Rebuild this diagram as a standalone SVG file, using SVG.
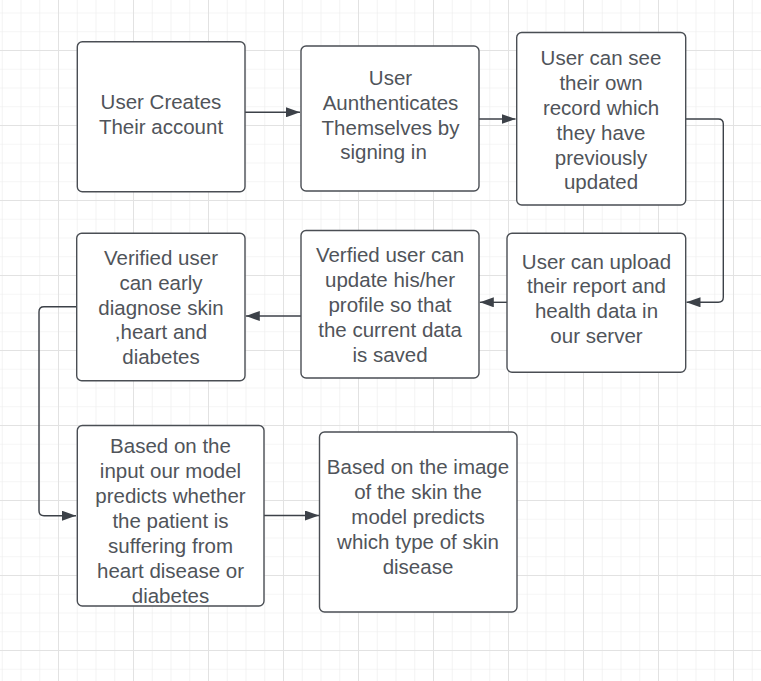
<svg xmlns="http://www.w3.org/2000/svg" width="761" height="681" viewBox="0 0 761 681">
<style>
.box{fill:#ffffff;stroke:#4a4e54;stroke-width:1.4}
.lbl{font-family:"Liberation Sans",Arial,sans-serif;font-size:20.5px;fill:#50545a;text-anchor:middle}
.con{fill:none;stroke:#3c4148;stroke-width:1.4}
</style>
<defs>
<pattern id="minor" patternUnits="userSpaceOnUse" x="1.75" y="12.5" width="18.75" height="18.75">
<path d="M0 0H18.75M0 0V18.75" fill="none" stroke="#ececec" stroke-width="1.2"/>
</pattern>
<pattern id="mid" patternUnits="userSpaceOnUse" x="58" y="50" width="75" height="75">
<path d="M0 0H75M0 0V75" fill="none" stroke="#e2e2e2" stroke-width="2"/>
</pattern>
<marker id="arr" viewBox="0 0 14 10" refX="14" refY="5" markerWidth="14" markerHeight="10" markerUnits="userSpaceOnUse" orient="auto">
<path d="M0 0L14 5L0 10Z" fill="#3c4148"/>
</marker>
</defs>
<rect width="761" height="681" fill="#ffffff"/>
<rect width="761" height="681" fill="url(#minor)"/>
<rect width="761" height="681" fill="url(#mid)"/>
<g id="connectors">
<path class="con" d="M245 112.3H300" marker-end="url(#arr)"/>
<path class="con" d="M479 119H515.5" marker-end="url(#arr)"/>
<path class="con" d="M685.7 119H718.3Q723.3 119 723.3 124V297.3Q723.3 302.3 718.3 302.3H686.5" marker-end="url(#arr)"/>
<path class="con" d="M507 302.3H479.8" marker-end="url(#arr)"/>
<path class="con" d="M301 316H245.8" marker-end="url(#arr)"/>
<path class="con" d="M77 306.7H44Q39 306.7 39 311.7V510.7Q39 515.7 44 515.7H76" marker-end="url(#arr)"/>
<path class="con" d="M264 515.5H319" marker-end="url(#arr)"/>
</g>
<g id="n1">
<rect class="box" x="77.3" y="41.7" width="167.7" height="150" rx="5"/>
<text class="lbl" x="161" y="109">User Creates</text>
<text class="lbl" x="161" y="134">Their account</text>
</g>
<g id="n2">
<rect class="box" x="301" y="46" width="178" height="145" rx="5"/>
<text class="lbl" x="390.5" y="85">User</text>
<text class="lbl" x="390.5" y="110">Aunthenticates</text>
<text class="lbl" x="390.5" y="134.5">Themselves by</text>
<text class="lbl" x="383.5" y="159">signing in</text>
</g>
<g id="n3">
<rect class="box" x="516.7" y="32.5" width="169" height="172.5" rx="5"/>
<text class="lbl" x="601" y="65">User can see</text>
<text class="lbl" x="601" y="90">their own</text>
<text class="lbl" x="601" y="115">record which</text>
<text class="lbl" x="601" y="140">they have</text>
<text class="lbl" x="601" y="164.5">previously</text>
<text class="lbl" x="601" y="189">updated</text>
</g>
<g id="n4">
<rect class="box" x="507" y="233.3" width="178.7" height="139" rx="5"/>
<text class="lbl" x="596.5" y="268.5">User can upload</text>
<text class="lbl" x="596.5" y="293">their report and</text>
<text class="lbl" x="596.5" y="318">health data in</text>
<text class="lbl" x="596.5" y="343">our server</text>
</g>
<g id="n5">
<rect class="box" x="301" y="230.5" width="178" height="147.5" rx="5"/>
<text class="lbl" x="390" y="262">Verfied user can</text>
<text class="lbl" x="390" y="287">update his/her</text>
<text class="lbl" x="390" y="312">profile so that</text>
<text class="lbl" x="390" y="337">the current data</text>
<text class="lbl" x="390" y="362">is saved</text>
</g>
<g id="n6">
<rect class="box" x="76.7" y="233.3" width="168.3" height="147.4" rx="5"/>
<text class="lbl" x="161" y="265">Verified user</text>
<text class="lbl" x="161" y="290">can early</text>
<text class="lbl" x="161" y="314.5">diagnose skin</text>
<text class="lbl" x="161" y="339">,heart and</text>
<text class="lbl" x="161" y="364">diabetes</text>
</g>
<g id="n7">
<rect class="box" x="77.3" y="425.5" width="186.7" height="180.5" rx="5"/>
<text class="lbl" x="170.5" y="453">Based on the</text>
<text class="lbl" x="170.5" y="478">input our model</text>
<text class="lbl" x="170.5" y="503">predicts whether</text>
<text class="lbl" x="170.5" y="528">the patient is</text>
<text class="lbl" x="170.5" y="553">suffering from</text>
<text class="lbl" x="170.5" y="578">heart disease or</text>
<text class="lbl" x="170.5" y="603">diabetes</text>
</g>
<g id="n8">
<rect class="box" x="319.5" y="432" width="197.5" height="180" rx="5"/>
<text class="lbl" x="418" y="474">Based on the image</text>
<text class="lbl" x="418" y="499">of the skin the</text>
<text class="lbl" x="418" y="524">model predicts</text>
<text class="lbl" x="418" y="549">which type of skin</text>
<text class="lbl" x="418" y="574">disease</text>
</g>
</svg>
